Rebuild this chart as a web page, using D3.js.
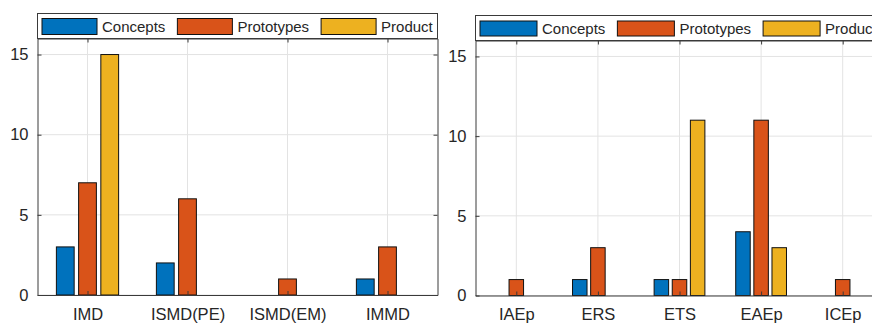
<!DOCTYPE html>
<html>
<head>
<meta charset="utf-8">
<script src="https://cdn.jsdelivr.net/npm/d3@7"></script>
<style>
  html, body { margin: 0; padding: 0; background: #fff; overflow: hidden; }
  svg { display: block; font-family: "Liberation Sans", Arial, Helvetica, sans-serif; }
</style>
</head>
<body>
<svg id="chart" width="872" height="325"></svg>
<script>
// Series names and colours
const seriesNames = ["Concepts", "Prototypes", "Product"];
const seriesColors = ["#0072BD", "#D95319", "#EDB120"];

// Left panel: categories and counts per series
const leftCategories = ["IMD", "ISMD(PE)", "ISMD(EM)", "IMMD"];
const leftConcepts   = [3, 2, 0, 1];
const leftPrototypes = [7, 6, 1, 3];
const leftProduct    = [15, 0, 0, 0];

// Right panel: categories and counts per series
const rightCategories = ["IAEp", "ERS", "ETS", "EAEp", "ICEp"];
const rightConcepts   = [0, 1, 1, 4, 0];
const rightPrototypes = [1, 3, 1, 11, 1];
const rightProduct    = [0, 0, 11, 3, 0];

// Shared y axis
const yTicks = [0, 5, 10, 15];
const yMax = 16;

const svg = d3.select("#chart");
const textColor = "#262626";
const axisColor = "#3a3a3a";
const gridColor = "#e3e3e3";

function drawPanel(cfg) {
  const { categories, series, left, right, top, bottom, legendTop, legendH, swatchW, swatchH } = cfg;
  const g = svg.append("g");

  // Categories sit at 1..n with half a step of padding on each side
  const x = d3.scaleLinear().domain([0.5, categories.length + 0.5]).range([left, right]);
  const y = d3.scaleLinear().domain([0, yMax]).range([bottom, top]);

  // Grid lines
  g.append("g").selectAll("line.gy").data(yTicks).join("line")
    .attr("x1", left).attr("x2", right)
    .attr("y1", d => y(d)).attr("y2", d => y(d))
    .attr("stroke", gridColor).attr("stroke-width", 1);
  g.append("g").selectAll("line.gx").data(categories).join("line")
    .attr("x1", (d, i) => x(i + 1)).attr("x2", (d, i) => x(i + 1))
    .attr("y1", top).attr("y2", bottom)
    .attr("stroke", gridColor).attr("stroke-width", 1);

  // Grouped bars: group width 3/(3+1.5) of a step, each bar 80% of its slot
  const nS = series.length;
  const groupW = Math.min(0.8, nS / (nS + 1.5));
  const slot = groupW / nS;
  const barW = slot * 0.8;
  series.forEach((vals, s) => {
    const offset = (s - (nS - 1) / 2) * slot;
    g.append("g").selectAll("rect").data(vals.map((v, i) => ({ v, i }))).join("rect")
      .filter(d => d.v > 0)
      .attr("x", d => x(d.i + 1 + offset - barW / 2))
      .attr("width", d => x(d.i + 1 + offset + barW / 2) - x(d.i + 1 + offset - barW / 2))
      .attr("y", d => y(d.v))
      .attr("height", d => y(0) - y(d.v))
      .attr("fill", seriesColors[s])
      .attr("stroke", "#111")
      .attr("stroke-width", 1);
  });

  // Axes through d3 axis generators, ticks pointing inward
  const yAxisL = d3.axisLeft(y).tickValues(yTicks).tickSize(-4).tickPadding(9).tickFormat(d3.format("d"));
  const yAxisR = d3.axisRight(y).tickValues(yTicks).tickSize(-4).tickFormat("");
  const xAxisB = d3.axisBottom(x).tickValues(categories.map((d, i) => i + 1)).tickSize(-4).tickPadding(13)
    .tickFormat((d) => categories[d - 1]);
  const xAxisT = d3.axisTop(x).tickValues(categories.map((d, i) => i + 1)).tickSize(-4).tickFormat("");

  const styleAxis = sel => {
    sel.select(".domain").attr("stroke", axisColor).attr("stroke-width", 1);
    sel.selectAll(".tick line").attr("stroke", axisColor);
    sel.selectAll(".tick text").attr("fill", textColor).attr("font-size", "16.5px");
  };
  g.append("g").attr("transform", `translate(${left},0)`).call(yAxisL.tickSizeOuter(0)).call(styleAxis);
  g.append("g").attr("transform", `translate(${right},0)`).call(yAxisR.tickSizeOuter(0)).call(styleAxis);
  g.append("g").attr("transform", `translate(0,${bottom})`).call(xAxisB.tickSizeOuter(0)).call(styleAxis);
  g.append("g").attr("transform", `translate(0,${top})`).call(xAxisT.tickSizeOuter(0)).call(styleAxis);
  g.selectAll("text").attr("font-family", null);

  // Legend across the top of the axes
  const lg = g.append("g");
  lg.append("rect")
    .attr("x", left).attr("y", legendTop)
    .attr("width", right - left).attr("height", legendH)
    .attr("fill", "#fff").attr("stroke", axisColor).attr("stroke-width", 1);
  let cx = left + 4.5;
  const sy = legendTop + (legendH - swatchH) / 2 + 0.5;
  seriesNames.forEach((name, s) => {
    lg.append("rect")
      .attr("x", cx).attr("y", sy).attr("width", swatchW).attr("height", swatchH)
      .attr("fill", seriesColors[s]).attr("stroke", "#111").attr("stroke-width", 1);
    const t = lg.append("text")
      .attr("x", cx + swatchW + 5)
      .attr("y", legendTop + legendH / 2 + 5.5)
      .attr("font-size", "15px").attr("fill", textColor)
      .text(name);
    cx += swatchW + 5 + t.node().getComputedTextLength() + 12;
  });
}

drawPanel({
  categories: leftCategories,
  series: [leftConcepts, leftPrototypes, leftProduct],
  left: 37.5, right: 437.5, top: 38.5, bottom: 295,
  legendTop: 13.5, legendH: 25, swatchW: 55, swatchH: 16
});

drawPanel({
  categories: rightCategories,
  series: [rightConcepts, rightPrototypes, rightProduct],
  left: 475.5, right: 883.5, top: 40.5, bottom: 295.5,
  legendTop: 15.5, legendH: 25, swatchW: 57, swatchH: 15
});
</script>
</body>
</html>
